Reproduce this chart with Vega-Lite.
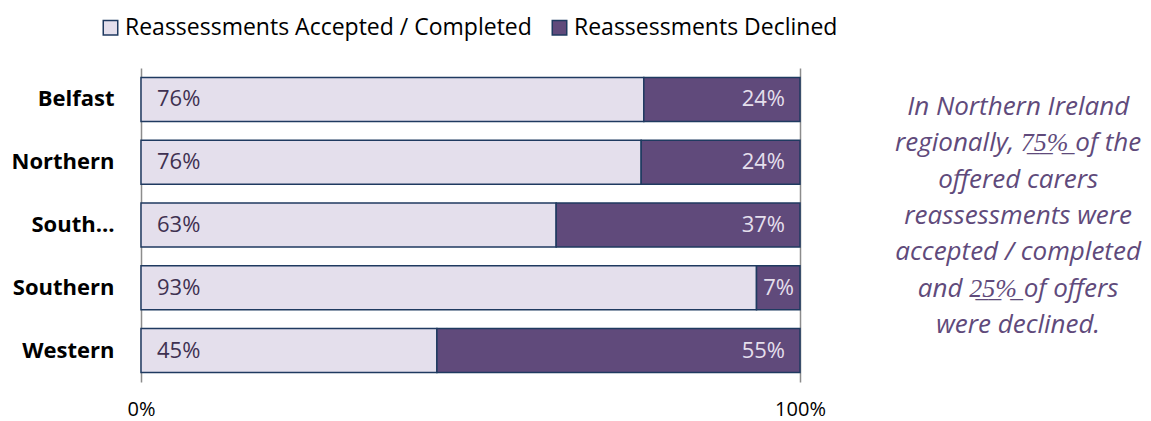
{
  "$schema": "https://vega.github.io/schema/vega-lite/v6.json",
  "width": 659,
  "height": 314,
  "autosize": {"type": "none"},
  "padding": {"left": 141, "top": 68, "right": 351, "bottom": 39},
  "background": "white",
  "config": {"view": {"stroke": null}, "font": "Open Sans"},
  "data": {
    "values": [
      {"region": "Belfast", "status": "Reassessments Accepted / Completed", "value": 0.763},
      {"region": "Belfast", "status": "Reassessments Declined", "value": 0.237},
      {"region": "Northern", "status": "Reassessments Accepted / Completed", "value": 0.759},
      {"region": "Northern", "status": "Reassessments Declined", "value": 0.241},
      {"region": "South Eastern", "status": "Reassessments Accepted / Completed", "value": 0.630},
      {"region": "South Eastern", "status": "Reassessments Declined", "value": 0.370},
      {"region": "Southern", "status": "Reassessments Accepted / Completed", "value": 0.934},
      {"region": "Southern", "status": "Reassessments Declined", "value": 0.066},
      {"region": "Western", "status": "Reassessments Accepted / Completed", "value": 0.449},
      {"region": "Western", "status": "Reassessments Declined", "value": 0.551}
    ]
  },
  "encoding": {
    "y": {
      "field": "region", "type": "nominal",
      "sort": ["Belfast", "Northern", "South Eastern", "Southern", "Western"],
      "scale": {"paddingInner": 0.3, "paddingOuter": 0.15},
      "axis": {
        "title": null, "domain": false, "ticks": false, "labelPadding": 27,
        "labelFontSize": 22, "labelFontWeight": "bold", "labelColor": "#000000",
        "labelFont": "Open Sans",
        "labelExpr": "datum.label == 'South Eastern' ? 'South…' : datum.label"
      }
    }
  },
  "layer": [
    {
      "mark": {"type": "bar", "stroke": "#1F3A60", "strokeWidth": 1.5},
      "encoding": {
        "x": {
          "field": "value", "type": "quantitative", "stack": "zero",
          "scale": {"domain": [0, 1], "nice": false},
          "axis": {
            "title": null, "format": ".0%", "values": [0, 1], "domain": false, "ticks": false,
            "grid": true, "gridColor": "#8C8C8C", "gridWidth": 1.5, "labelFlush": false,
            "labelPadding": 17, "labelFontSize": 20, "labelColor": "#000000", "labelFont": "Open Sans"
          }
        },
        "color": {
          "field": "status", "type": "nominal",
          "scale": {
            "domain": ["Reassessments Accepted / Completed", "Reassessments Declined"],
            "range": ["#E4DFEC", "#604A7B"]
          },
          "legend": {
            "title": null, "orient": "none", "direction": "horizontal",
            "legendX": -42, "legendY": -52,
            "symbolType": "square", "symbolSize": 210,
            "symbolStrokeColor": "#1F3A60", "symbolStrokeWidth": 1.5,
            "labelFontSize": 23, "labelColor": "#000000", "labelFont": "Open Sans",
            "labelLimit": 600, "columnPadding": 16, "symbolOffset": 0, "labelOffset": 3,
            "padding": 0
          }
        }
      }
    },
    {
      "transform": [{"filter": "datum.status == 'Reassessments Accepted / Completed'"}],
      "mark": {"type": "text", "align": "left", "baseline": "middle", "dx": 16, "fontSize": 22, "color": "#3F3151"},
      "encoding": {
        "x": {"datum": 0},
        "text": {"field": "value", "type": "quantitative", "format": ".0%"}
      }
    },
    {
      "transform": [{"filter": "datum.status == 'Reassessments Declined' && datum.value >= 0.1"}],
      "mark": {"type": "text", "align": "right", "baseline": "middle", "dx": -15, "fontSize": 22, "color": "#E4DFEC"},
      "encoding": {
        "x": {"datum": 1},
        "text": {"field": "value", "type": "quantitative", "format": ".0%"}
      }
    },
    {
      "transform": [{"filter": "datum.status == 'Reassessments Declined' && datum.value < 0.1"}],
      "mark": {"type": "text", "align": "right", "baseline": "middle", "dx": -6, "fontSize": 22, "color": "#E4DFEC"},
      "encoding": {
        "x": {"datum": 1},
        "text": {"field": "value", "type": "quantitative", "format": ".0%"}
      }
    },
    {
      "data": {"values": [{"note": "summary"}]},
      "mark": {
        "type": "text", "align": "center", "baseline": "middle", "fontSize": 26,
        "fontStyle": "italic", "color": "#604A7B", "lineHeight": 36.3, "dy": -118
      },
      "encoding": {
        "x": {"datum": 1.331},
        "y": {"datum": "South Eastern"},
        "text": {"value": ["In Northern Ireland", "regionally, 7̲5̲%̲ of the", "offered carers", "reassessments were", "accepted / completed", "and 2̲5̲%̲ of offers", "were declined."]}
      }
    }
  ]
}
